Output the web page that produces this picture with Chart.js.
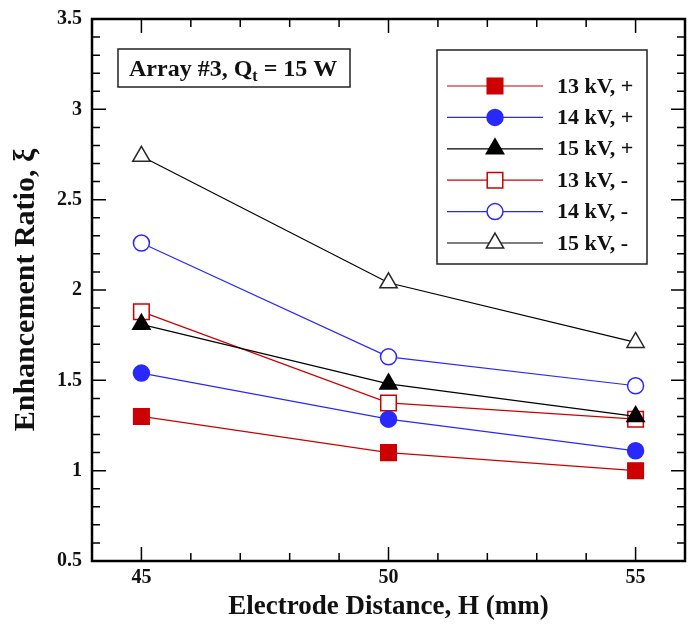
<!DOCTYPE html>
<html>
<head>
<meta charset="utf-8">
<script src="https://cdn.jsdelivr.net/npm/chart.js@4"></script>
<style>
  html, body { margin: 0; padding: 0; background: #fff; }
  #wrap { width: 692px; height: 631px; }
</style>
</head>
<body>
<div id="wrap"><canvas id="ratio"></canvas></div>
<script>
// data
var distances = [45, 50, 55];
var kv13Pos = [1.30, 1.10, 1.00];
var kv14Pos = [1.54, 1.285, 1.11];
var kv15Pos = [1.81, 1.48, 1.30];
var kv13Neg = [1.88, 1.375, 1.285];
var kv14Neg = [2.26, 1.63, 1.47];
var kv15Neg = [2.74, 2.04, 1.71];

var xTicks = [45, 50, 55];
var yTicks = [0.5, 1, 1.5, 2, 2.5, 3, 3.5];

var RED = 'rgb(204, 0, 0)';
var BLUE = 'rgb(40, 40, 255)';
var BLACK = 'rgb(0, 0, 0)';
var SERIF = '"Liberation Serif", "Times New Roman", serif';

function pts(vals) {
  return distances.map(function (d, i) { return { x: d, y: vals[i] }; });
}

function series(label, vals, color, lineColor, style, filled, radius) {
  return {
    label: label,
    data: pts(vals),
    borderColor: lineColor,
    borderWidth: 1.2,
    pointStyle: style,
    pointRadius: radius,
    pointHoverRadius: radius,
    pointBackgroundColor: filled ? color : '#fff',
    pointBorderColor: color,
    pointBorderWidth: 1.5,
    fill: false,
    tension: 0
  };
}

// frame, inward major/minor ticks, legend box and the label box
var decor = {
  id: 'decor',
  afterDraw: function (chart) {
    var ctx = chart.ctx;
    var a = chart.chartArea;
    var xs = chart.scales.x, ys = chart.scales.y;
    ctx.save();
    ctx.strokeStyle = '#000';

    // minor + major ticks, pointing inwards on all four sides
    ctx.lineWidth = 1.5;
    ctx.beginPath();
    for (var v = 44; v <= 56; v++) {
      var px = xs.getPixelForValue(v);
      var len = (v % 5 === 0) ? 14 : 8;
      ctx.moveTo(px, a.bottom); ctx.lineTo(px, a.bottom - len);
      ctx.moveTo(px, a.top); ctx.lineTo(px, a.top + len);
    }
    for (var k = 5; k <= 35; k++) {
      var py = ys.getPixelForValue(k / 10);
      var l2 = (k % 5 === 0) ? 14 : 8;
      ctx.moveTo(a.left, py); ctx.lineTo(a.left + l2, py);
      ctx.moveTo(a.right, py); ctx.lineTo(a.right - l2, py);
    }
    ctx.stroke();

    ctx.lineWidth = 2.5;
    ctx.strokeRect(a.left, a.top, a.right - a.left, a.bottom - a.top);

    // label box
    ctx.lineWidth = 1.5;
    ctx.strokeStyle = '#222';
    ctx.strokeRect(118, 49, 232, 38);
    ctx.fillStyle = '#111';
    ctx.textBaseline = 'alphabetic';
    ctx.textAlign = 'left';
    ctx.font = 'bold 24px ' + SERIF;
    var tx = 129, ty = 76;
    var s1 = 'Array #3, Q';
    ctx.fillText(s1, tx, ty);
    tx += ctx.measureText(s1).width;
    ctx.font = 'bold 16px ' + SERIF;
    ctx.fillText('t', tx, ty + 5);
    tx += ctx.measureText('t').width;
    ctx.font = 'bold 24px ' + SERIF;
    ctx.fillText(' = 15 W', tx, ty);

    // legend
    ctx.strokeStyle = '#222';
    ctx.lineWidth = 1.5;
    ctx.strokeRect(437, 50, 210, 214);
    chart.data.datasets.forEach(function (ds, i) {
      var yy = 86 + i * 31.4;
      ctx.strokeStyle = ds.borderColor;
      ctx.lineWidth = 1.2;
      ctx.beginPath();
      ctx.moveTo(447, yy); ctx.lineTo(543, yy);
      ctx.stroke();
      ctx.fillStyle = ds.pointBackgroundColor;
      ctx.strokeStyle = ds.pointBorderColor;
      ctx.lineWidth = ds.pointBorderWidth;
      Chart.helpers.drawPoint(ctx, {
        pointStyle: ds.pointStyle, radius: ds.pointRadius, rotation: 0, borderWidth: ds.pointBorderWidth
      }, 495, yy);
      ctx.fillStyle = '#111';
      ctx.font = 'bold 22px ' + SERIF;
      ctx.textBaseline = 'middle';
      ctx.fillText(ds.label, 557, yy + 1);
    });
    ctx.restore();
  }
};

var ctx = document.getElementById('ratio').getContext('2d');
var chart = new Chart(ctx, {
  type: 'line',
  data: {
    datasets: [
      series('13 kV, +', kv13Pos, RED, RED, 'rect', true, 11),
      series('14 kV, +', kv14Pos, BLUE, BLUE, 'circle', true, 8),
      series('15 kV, +', kv15Pos, BLACK, BLACK, 'triangle', true, 10),
      series('13 kV, -', kv13Neg, RED, RED, 'rect', false, 11),
      series('14 kV, -', kv14Neg, BLUE, BLUE, 'circle', false, 8),
      series('15 kV, -', kv15Neg, 'rgb(40,40,40)', BLACK, 'triangle', false, 10)
    ]
  },
  options: {
    responsive: true,
    maintainAspectRatio: false,
    animation: false,
    layout: { autoPadding: false, padding: { left: 0, right: 7, top: 19, bottom: 0 } },
    plugins: {
      legend: { display: false },
      tooltip: { enabled: false }
    },
    scales: {
      x: {
        type: 'linear',
        min: 44,
        max: 56,
        afterBuildTicks: function (s) { s.ticks = xTicks.map(function (v) { return { value: v }; }); },
        afterFit: function (s) { s.height = 70; s.paddingLeft = 0; s.paddingRight = 0; },
        grid: { display: false, drawTicks: false },
        border: { display: false },
        ticks: {
          padding: 5,
          color: '#111',
          font: { family: SERIF, size: 20, weight: 'bold' },
          callback: function (v) { return String(v); }
        },
        title: {
          display: true,
          text: 'Electrode Distance, H (mm)',
          color: '#111',
          font: { family: SERIF, size: 27, weight: 'bold' },
          padding: { bottom: 8 }
        }
      },
      y: {
        min: 0.5,
        max: 3.5,
        afterBuildTicks: function (s) { s.ticks = yTicks.map(function (v) { return { value: v }; }); },
        afterFit: function (s) { s.width = 92; s.paddingTop = 0; s.paddingBottom = 0; },
        grid: { display: false, drawTicks: false },
        border: { display: false },
        ticks: {
          padding: 10,
          color: '#111',
          font: { family: SERIF, size: 20, weight: 'bold' },
          callback: function (v) { return String(v); }
        },
        title: {
          display: true,
          text: 'Enhancement Ratio, ξ',
          color: '#111',
          font: { family: SERIF, size: 30, weight: 'bold' },
          padding: { top: 8 }
        }
      }
    }
  },
  plugins: [decor]
});
</script>
</body>
</html>
